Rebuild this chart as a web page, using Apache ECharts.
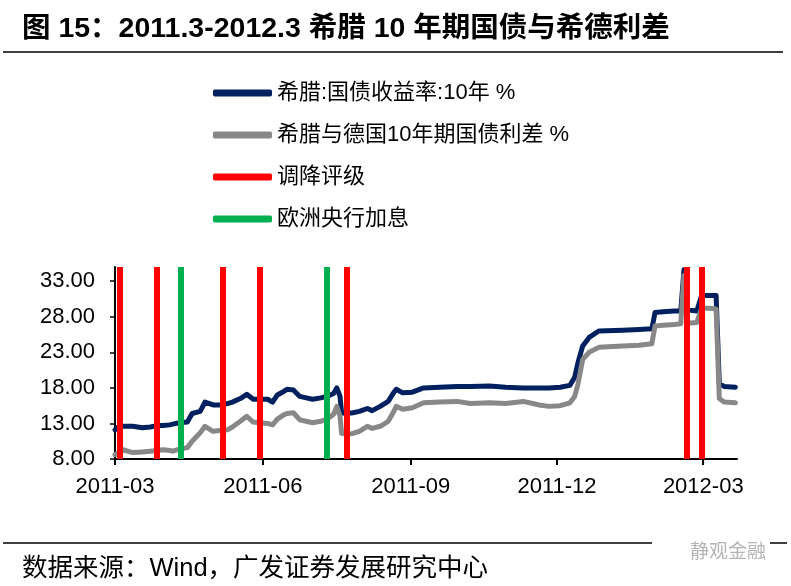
<!DOCTYPE html>
<html><head><meta charset="utf-8">
<script src="https://cdn.jsdelivr.net/npm/echarts@6/dist/echarts.min.js"></script>
<style>html,body{margin:0;padding:0;background:#fff}#c{width:791px;height:586px}</style>
</head><body><div id="c"></div>
<script>
const dates = ['2011-03-01','2011-03-04','2011-03-06','2011-03-12','2011-03-18','2011-03-23','2011-03-27','2011-03-31',
'2011-04-04','2011-04-06','2011-04-10','2011-04-15','2011-04-18','2011-04-23','2011-04-26',
'2011-05-01','2011-05-05','2011-05-10','2011-05-13','2011-05-18','2011-05-22','2011-05-26','2011-05-30',
'2011-06-04','2011-06-07','2011-06-10','2011-06-14','2011-06-16','2011-06-20','2011-06-24','2011-06-28',
'2011-07-02','2011-07-07','2011-07-11','2011-07-15','2011-07-17','2011-07-19','2011-07-20','2011-07-23','2011-07-27','2011-07-31',
'2011-08-05','2011-08-08','2011-08-13','2011-08-18','2011-08-21','2011-08-23','2011-08-27',
'2011-09-02','2011-09-09','2011-09-19','2011-09-30','2011-10-08','2011-10-20','2011-10-30',
'2011-11-10','2011-11-20','2011-11-26','2011-12-03','2011-12-09','2011-12-12','2011-12-14','2011-12-17','2011-12-21','2011-12-27',
'2012-01-11','2012-01-21','2012-01-29','2012-01-31','2012-02-05','2012-02-12','2012-02-16','2012-02-18','2012-02-20','2012-02-21','2012-02-26','2012-02-29',
'2012-03-05','2012-03-09','2012-03-11','2012-03-14','2012-03-21'];
const greece10y = [12.1,12.7,12.6,12.6,12.4,12.5,12.7,12.7,
12.8,12.9,13.1,13.2,14.4,14.7,16.0,
15.6,15.6,15.8,16.0,16.5,17.1,16.4,16.4,
16.4,16.0,17.0,17.5,17.8,17.7,16.8,16.6,
16.4,16.6,16.8,17.2,18.0,16.8,14.5,14.4,14.5,14.7,
15.1,14.8,15.4,16.1,17.2,17.8,17.3,
17.4,18.0,18.1,18.2,18.2,18.25,18.1,
18.0,18.0,18.0,18.1,18.35,19.5,21.5,23.9,25.1,26.0,
26.1,26.2,26.3,28.6,28.7,28.8,28.8,34.6,29.0,28.8,28.8,31.0,
31.0,31.0,18.6,18.2,18.1];
const spreadDE = [8.6,9.0,9.3,8.9,9.0,9.1,9.2,9.3,
9.2,9.1,9.4,9.6,10.5,11.7,12.6,
11.9,12.0,12.1,12.5,13.3,14.0,13.2,13.1,
13.0,12.8,13.6,14.2,14.4,14.5,13.5,13.3,
13.1,13.3,13.6,14.3,15.4,14.0,11.6,11.5,11.6,11.9,
12.6,12.3,12.6,13.3,14.5,15.4,15.0,
15.2,15.9,16.0,16.1,15.8,15.9,15.8,
16.1,15.6,15.4,15.5,15.9,16.8,18.5,22.0,23.0,23.7,
23.9,24.0,24.2,26.7,26.8,26.9,27.0,33.8,27.1,27.0,27.2,29.2,
29.2,29.1,16.5,16.0,15.9];
const downgradeDates = ['2011-03-04','2011-03-27','2011-05-07','2011-05-30','2011-07-23','2012-02-20','2012-02-29'];
const ecbHikeDates = ['2011-04-11','2011-07-11'];
const xTickDates = ['2011-03-01','2011-06-01','2011-09-01','2011-12-01','2012-03-01'];
const xTickLabels = ['2011-03','2011-06','2011-09','2011-12','2012-03'];
const yTickValues = [8,13,18,23,28,33];
const seriesNames = ['希腊:国债收益率:10年 %','希腊与德国10年期国债利差 %','调降评级','欧洲央行加息'];

const P = s => Date.UTC(+s.slice(0,4), +s.slice(5,7)-1, +s.slice(8,10));
const xTickVals = xTickDates.map(P);
const FONT = '"Liberation Sans", Arial, "Noto Sans CJK SC", sans-serif';
const chart = echarts.init(document.getElementById('c'), null, {renderer:'canvas'});
chart.setOption({
  animation:false,
  backgroundColor:'#fff',
  grid:{left:115, top:267, width:622, height:192, containLabel:false},
  legend:{
    orient:'vertical', left:213, top:82, padding:0, itemWidth:59, itemHeight:7, itemGap:20, icon:'roundRect',
    textStyle:{fontSize:22, lineHeight:22, fontFamily:FONT, color:'#000'},
    data:seriesNames
  },
  xAxis:{
    type:'value', min:P('2011-03-01'), max:P('2012-03-22'), scale:true,
    axisLine:{lineStyle:{color:'#000', width:2}},
    axisTick:{show:true, customValues:xTickVals, length:6, lineStyle:{color:'#000', width:2}},
    axisLabel:{customValues:xTickVals, color:'#000', fontSize:22, fontFamily:FONT, margin:17,
      formatter:v=>{const i=xTickVals.indexOf(v); return i>=0?xTickLabels[i]:'';}},
    splitLine:{show:false}
  },
  yAxis:{
    type:'value', min:8, max:35, interval:5,
    axisLine:{show:true, lineStyle:{color:'#000', width:2}},
    axisTick:{show:true, customValues:yTickValues, length:5, lineStyle:{color:'#000', width:1.5}},
    axisLabel:{customValues:yTickValues, color:'#000', fontSize:22, fontFamily:FONT, margin:20, formatter:v=>v.toFixed(2)},
    splitLine:{show:false}
  },
  series:[
    {name:seriesNames[0], type:'line', symbol:'none', color:'#00205F',
     lineStyle:{width:5, color:'#00205F', cap:'round', join:'round'},
     data:dates.map((d,i)=>[P(d), greece10y[i]]), z:2},
    {name:seriesNames[1], type:'line', symbol:'none', color:'#888888',
     lineStyle:{width:5, color:'#888888', cap:'round', join:'round'},
     data:dates.map((d,i)=>[P(d), spreadDE[i]]), z:3},
    {name:seriesNames[2], type:'line', symbol:'none', color:'#FF0000', data:[], z:5,
     lineStyle:{color:'#FF0000', width:6},
     markLine:{silent:true, symbol:['none','none'], label:{show:false}, emphasis:{disabled:true},
       lineStyle:{color:'#FF0000', width:6, type:'solid'}, data:downgradeDates.map(d=>({xAxis:P(d)}))}},
    {name:seriesNames[3], type:'line', symbol:'none', color:'#00B050', data:[], z:5,
     lineStyle:{color:'#00B050', width:6},
     markLine:{silent:true, symbol:['none','none'], label:{show:false}, emphasis:{disabled:true},
       lineStyle:{color:'#00B050', width:6, type:'solid'}, data:ecbHikeDates.map(d=>({xAxis:P(d)}))}}
  ],
  graphic:[
    {type:'text', left:22, top:15, style:{text:'图 15：2011.3-2012.3 希腊 10 年期国债与希德利差', fontSize:28.5, fontWeight:'bold', fontFamily:FONT, fill:'#000'}},
    {type:'line', shape:{x1:3, y1:52, x2:783, y2:52}, style:{stroke:'#000', lineWidth:1.5}},
    {type:'line', shape:{x1:3, y1:543, x2:787, y2:543}, style:{stroke:'#000', lineWidth:1.5}},
    {type:'rect', shape:{x:652, y:536, width:118, height:30}, style:{fill:'#fff'}},
    {type:'text', left:690, top:543, style:{text:'静观金融', fontSize:19, fontFamily:FONT, fill:'#b4b4b4'}},
    {type:'text', left:22, top:556, style:{text:'数据来源：Wind，广发证券发展研究中心', fontSize:25.5, fontFamily:FONT, fill:'#000'}}
  ]
});
</script></body></html>
